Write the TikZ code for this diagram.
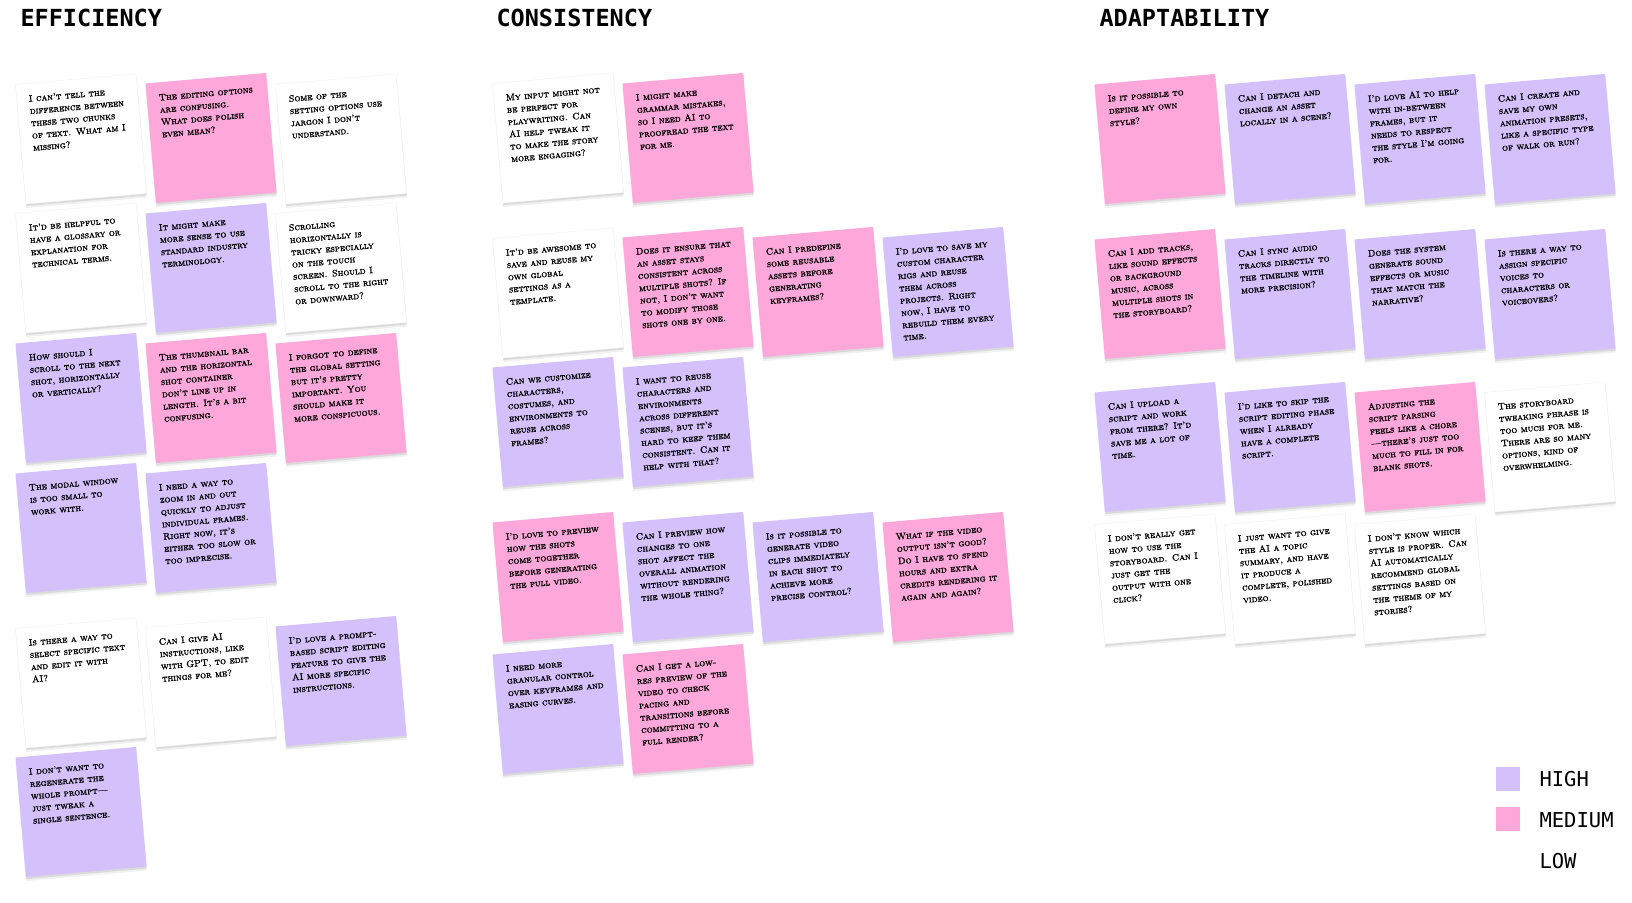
\documentclass[tikz,border=0pt]{standalone}
\usepackage{fontspec}
\usepackage{tikz}
\usetikzlibrary{shadows}
\newfontfamily\labelmono{DejaVu Sans Mono}
\newfontfamily\scribblefont{lmromancaps10-regular.otf}[FakeBold=1.6, Ligatures=TeX]
\definecolor{highpurple}{RGB}{212,193,252}
\definecolor{medpink}{RGB}{253,167,218}

\begin{document}
\begin{tikzpicture}[x=1pt, y=-1pt,
    sticky/.style={minimum width=121pt, minimum height=120pt, inner sep=0pt, rotate=5,
      drop shadow={shadow xshift=0pt, shadow yshift=-4pt, opacity=0.06, fill=black},
      drop shadow={shadow xshift=0.5pt, shadow yshift=-2pt, opacity=0.09, fill=black}},
    low/.style={sticky, fill=white, draw=black!5},
    medium/.style={sticky, fill=medpink},
    high/.style={sticky, fill=highpurple},
    scribble/.style={anchor=north west, rotate=5, align=left, inner xsep=12pt, inner ysep=12pt,
      font=\scribblefont\fontsize{9.3}{12.3}\selectfont},
    heading/.style={anchor=base west, font=\labelmono\bfseries\fontsize{23.5}{28}\selectfont},
    keytext/.style={anchor=base west, font=\labelmono\fontsize{20.5}{24}\selectfont}]
  \fill[white] (0,0) rectangle (1632,902);
  \useasboundingbox (0,0) rectangle (1632,902);

  % column headings
  \node[heading] (efficiency) at (17,27) {EFFICIENCY};
  \node[heading] (consistency) at (493,27) {CONSISTENCY};
  \node[heading] (adaptability) at (1096,27) {ADAPTABILITY};

  % efficiency
  \node[low] (e1) at (81,139) {};
  \node[scribble] (e1t) at (e1.north west) {I can't tell the\\difference between\\these two chunks\\of text. What am I\\missing?};
  \node[medium] (e2) at (211,138) {};
  \node[scribble] (e2t) at (e2.north west) {The editing options\\are confusing.\\What does polish\\even mean?};
  \node[low] (e3) at (341,139) {};
  \node[scribble] (e3t) at (e3.north west) {Some of the\\setting options use\\jargon I don't\\understand.};
  \node[low] (e4) at (81,268) {};
  \node[scribble] (e4t) at (e4.north west) {It'd be helpful to\\have a glossary or\\explanation for\\technical terms.};
  \node[high] (e5) at (211,268) {};
  \node[scribble] (e5t) at (e5.north west) {It might make\\more sense to use\\standard industry\\terminology.};
  \node[low] (e6) at (341,268) {};
  \node[scribble] (e6t) at (e6.north west) {Scrolling\\horizontally is\\tricky especially\\on the touch\\screen. Should I\\scroll to the right\\or downward?};
  \node[high] (e7) at (81,398) {};
  \node[scribble] (e7t) at (e7.north west) {How should I\\scroll to the next\\shot, horizontally\\or vertically?};
  \node[medium] (e8) at (211,398) {};
  \node[scribble] (e8t) at (e8.north west) {The thumbnail bar\\and the horizontal\\shot container\\don't line up in\\length. It's a bit\\confusing.};
  \node[medium] (e9) at (341,398) {};
  \node[scribble] (e9t) at (e9.north west) {I forgot to define\\the global setting\\but it's pretty\\important. You\\should make it\\more conspicuous.};
  \node[high] (e10) at (81,528) {};
  \node[scribble] (e10t) at (e10.north west) {The modal window\\is too small to\\work with.};
  \node[high] (e11) at (211,528) {};
  \node[scribble] (e11t) at (e11.north west) {I need a way to\\zoom in and out\\quickly to adjust\\individual frames.\\Right now, it's\\either too slow or\\too imprecise.};
  \node[low] (e12) at (81,683) {};
  \node[scribble] (e12t) at (e12.north west) {Is there a way to\\select specific text\\and edit it with\\AI?};
  \node[low] (e13) at (211,682) {};
  \node[scribble] (e13t) at (e13.north west) {Can I give AI\\instructions, like\\with GPT, to edit\\things for me?};
  \node[high] (e14) at (341,681) {};
  \node[scribble] (e14t) at (e14.north west) {I'd love a prompt-\\based script editing\\feature to give the\\AI more specific\\instructions.};
  \node[high] (e15) at (81,812) {};
  \node[scribble] (e15t) at (e15.north west) {I don't want to\\regenerate the\\whole prompt—\\just tweak a\\single sentence.};

  % consistency
  \node[low] (c1) at (558,138) {};
  \node[scribble] (c1t) at (c1.north west) {My input might not\\be perfect for\\playwriting. Can\\AI help tweak it\\to make the story\\more engaging?};
  \node[medium] (c2) at (688,138) {};
  \node[scribble] (c2t) at (c2.north west) {I might make\\grammar mistakes,\\so I need AI to\\proofread the text\\for me.};
  \node[low] (c3) at (558,293) {};
  \node[scribble] (c3t) at (c3.north west) {It'd be awesome to\\save and reuse my\\own global\\settings as a\\template.};
  \node[medium] (c4) at (688,292) {};
  \node[scribble] (c4t) at (c4.north west) {Does it ensure that\\an asset stays\\consistent across\\multiple shots? If\\not, I don't want\\to modify those\\shots one by one.};
  \node[medium] (c5) at (818,292) {};
  \node[scribble] (c5t) at (c5.north west) {Can I predefine\\some reusable\\assets before\\generating\\keyframes?};
  \node[high] (c6) at (948,292) {};
  \node[scribble] (c6t) at (c6.north west) {I'd love to save my\\custom character\\rigs and reuse\\them across\\projects. Right\\now, I have to\\rebuild them every\\time.};
  \node[high] (c7) at (558,422) {};
  \node[scribble] (c7t) at (c7.north west) {Can we customize\\characters,\\costumes, and\\environments to\\reuse across\\frames?};
  \node[high] (c8) at (688,422) {};
  \node[scribble] (c8t) at (c8.north west) {I want to reuse\\characters and\\environments\\across different\\scenes, but it's\\hard to keep them\\consistent. Can it\\help with that?};
  \node[medium] (c9) at (558,577) {};
  \node[scribble] (c9t) at (c9.north west) {I'd love to preview\\how the shots\\come together\\before generating\\the full video.};
  \node[high] (c10) at (688,577) {};
  \node[scribble] (c10t) at (c10.north west) {Can I preview how\\changes to one\\shot affect the\\overall animation\\without rendering\\the whole thing?};
  \node[high] (c11) at (818,577) {};
  \node[scribble] (c11t) at (c11.north west) {Is it possible to\\generate video\\clips immediately\\in each shot to\\achieve more\\precise control?};
  \node[medium] (c12) at (948,577) {};
  \node[scribble] (c12t) at (c12.north west) {What if the video\\output isn't good?\\Do I have to spend\\hours and extra\\credits rendering it\\again and again?};
  \node[high] (c13) at (558,709) {};
  \node[scribble] (c13t) at (c13.north west) {I need more\\granular control\\over keyframes and\\easing curves.};
  \node[medium] (c14) at (688,709) {};
  \node[scribble] (c14t) at (c14.north west) {Can I get a low-\\res preview of the\\video to check\\pacing and\\transitions before\\committing to a\\full render?};

  % adaptability
  \node[medium] (a1) at (1160,139) {};
  \node[scribble] (a1t) at (a1.north west) {Is it possible to\\define my own\\style?};
  \node[high] (a2) at (1290,139) {};
  \node[scribble] (a2t) at (a2.north west) {Can I detach and\\change an asset\\locally in a scene?};
  \node[high] (a3) at (1420,139) {};
  \node[scribble] (a3t) at (a3.north west) {I'd love AI to help\\with in-between\\frames, but it\\needs to respect\\the style I'm going\\for.};
  \node[high] (a4) at (1550,139) {};
  \node[scribble] (a4t) at (a4.north west) {Can I create and\\save my own\\animation presets,\\like a specific type\\of walk or run?};
  \node[medium] (a5) at (1160,294) {};
  \node[scribble] (a5t) at (a5.north west) {Can I add tracks,\\like sound effects\\or background\\music, across\\multiple shots in\\the storyboard?};
  \node[high] (a6) at (1290,294) {};
  \node[scribble] (a6t) at (a6.north west) {Can I sync audio\\tracks directly to\\the timeline with\\more precision?};
  \node[high] (a7) at (1420,294) {};
  \node[scribble] (a7t) at (a7.north west) {Does the system\\generate sound\\effects or music\\that match the\\narrative?};
  \node[high] (a8) at (1550,294) {};
  \node[scribble] (a8t) at (a8.north west) {Is there a way to\\assign specific\\voices to\\characters or\\voiceovers?};
  \node[high] (a9) at (1160,447) {};
  \node[scribble] (a9t) at (a9.north west) {Can I upload a\\script and work\\from there? It'd\\save me a lot of\\time.};
  \node[high] (a10) at (1290,447) {};
  \node[scribble] (a10t) at (a10.north west) {I'd like to skip the\\script editing phase\\when I already\\have a complete\\script.};
  \node[medium] (a11) at (1420,447) {};
  \node[scribble] (a11t) at (a11.north west) {Adjusting the\\script parsing\\feels like a chore\\—there's just too\\much to fill in for\\blank shots.};
  \node[low] (a12) at (1550,447) {};
  \node[scribble] (a12t) at (a12.north west) {The storyboard\\tweaking phrase is\\too much for me.\\There are so many\\options, kind of\\overwhelming.};
  \node[low] (a13) at (1160,579) {};
  \node[scribble] (a13t) at (a13.north west) {I don't really get\\how to use the\\storyboard. Can I\\just get the\\output with one\\click?};
  \node[low] (a14) at (1290,579) {};
  \node[scribble] (a14t) at (a14.north west) {I just want to give\\the AI a topic\\summary, and have\\it produce a\\complete, polished\\video.};
  \node[low] (a15) at (1420,579) {};
  \node[scribble] (a15t) at (a15.north west) {I don't know which\\style is proper. Can\\AI automatically\\recommend global\\settings based on\\the theme of my\\stories?};

  % legend
  \node[fill=highpurple, minimum size=24pt, inner sep=0pt] (keyhigh) at (1508,779) {};
  \node[keytext] (keyhight) at (1536,786) {HIGH};
  \node[fill=medpink, minimum size=24pt, inner sep=0pt] (keymed) at (1508,819) {};
  \node[keytext] (keymedt) at (1536,827) {MEDIUM};
  \node[keytext] (keylowt) at (1536,868) {LOW};
\end{tikzpicture}
\end{document}
